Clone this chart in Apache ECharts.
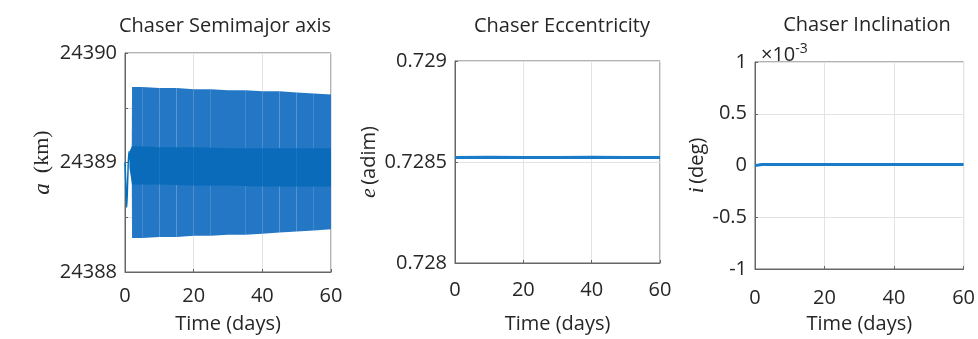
<!DOCTYPE html>
<html>
<head>
<meta charset="utf-8">
<script src="https://cdn.jsdelivr.net/npm/echarts@6/dist/echarts.min.js"></script>
<style>
  html, body { margin: 0; padding: 0; background: #fff; }
  #chart { width: 978px; height: 339px; }
</style>
</head>
<body>
<div id="chart"></div>
<script>
// semimajor axis: early transient, then envelope of the fast oscillation (km)
const transT = [0, 0.25, 0.5, 0.8, 1.15, 1.5, 1.95];
const transA = [24389.0, 24388.8, 24388.59, 24388.85, 24389.1, 24389.02, 24389.0];

const bandT = [1.95, 2.05, 5, 10, 15, 20, 25, 30, 35, 40, 45, 50, 55, 60];
const bandUpper = [24389.0, 24389.69, 24389.69, 24389.68, 24389.68, 24389.67, 24389.67, 24389.66, 24389.66, 24389.65, 24389.65, 24389.64, 24389.63, 24389.62];
const bandLower = [24389.0, 24388.31, 24388.31, 24388.32, 24388.32, 24388.33, 24388.33, 24388.34, 24388.34, 24388.35, 24388.36, 24388.37, 24388.38, 24388.39];

const coreT = [1.3, 2.05, 10, 20, 30, 40, 50, 60];
const coreUpper = [24389.1, 24389.15, 24389.14, 24389.14, 24389.13, 24389.13, 24389.13, 24389.13];
const coreLower = [24388.95, 24388.8, 24388.8, 24388.79, 24388.79, 24388.78, 24388.78, 24388.78];

// eccentricity (adim)
const eccT = [0, 10, 20, 30, 40, 50, 60];
const eccV = [0.728522, 0.728523, 0.728522, 0.728522, 0.728523, 0.728522, 0.728522];

// inclination (deg)
const incT = [0, 1, 2, 5, 10, 20, 30, 40, 50, 60];
const incV = [0, 0.000004, 0.000009, 0.00001, 0.00001, 0.00001, 0.00001, 0.00001, 0.00001, 0.00001];

const xTicks = [0, 20, 40, 60];

const BLUE = '#0072BD';
const TXT = '#262626';
const FONT = 'Open Sans';
const AX = '#666';

const pairs = (xs, ys) => xs.map((x, i) => [x, ys[i]]);
// consecutive envelope samples -> one quad each: [t0, lo0, hi0, t1, lo1, hi1]
const segs = (xs, lo, hi) => xs.slice(1).map((x, i) => [xs[i], lo[i], hi[i], x, lo[i + 1], hi[i + 1]]);

function bandSeries(data, color) {
  return {
    type: 'custom', xAxisIndex: 0, yAxisIndex: 0,
    encode: { x: [0, 3], y: [1, 2, 4, 5] },
    data: data,
    renderItem: (params, api) => {
      const pts = [
        api.coord([api.value(0), api.value(1)]),
        api.coord([api.value(3), api.value(4)]),
        api.coord([api.value(3), api.value(5)]),
        api.coord([api.value(0), api.value(2)])
      ];
      return { type: 'polygon', shape: { points: pts }, style: { fill: color } };
    }
  };
}

const chart = echarts.init(document.getElementById('chart'), null, { renderer: 'canvas' });

const grids = [
  { left: 125, top: 53, width: 206, height: 229 },
  { left: 455, top: 61, width: 205, height: 212 },
  { left: 755, top: 62, width: 213, height: 216 }
];

function xAxis(idx, margin, nameGap) {
  return {
    type: 'value', gridIndex: idx, min: xTicks[0], max: xTicks[xTicks.length - 1], interval: 20,
    name: 'Time (days)', nameLocation: 'middle', nameGap: nameGap,
    nameTextStyle: { fontFamily: FONT, fontSize: 20, color: TXT },
    axisLine: { show: true, onZero: false, lineStyle: { color: AX, width: 1 } },
    axisTick: { show: true, inside: true, length: 3, lineStyle: { color: AX } },
    axisLabel: { fontFamily: FONT, fontSize: 20, color: TXT, margin: margin },
    splitLine: { show: true, lineStyle: { color: '#e3e3e3', width: 1 } }
  };
}

function yBase(idx) {
  return {
    type: 'value', gridIndex: idx, nameLocation: 'middle', nameRotate: 90,
    axisLine: { show: true, lineStyle: { color: AX } },
    axisTick: { show: true, inside: true, length: 3, lineStyle: { color: AX } },
    splitLine: { show: true, lineStyle: { color: '#e3e3e3' } }
  };
}

const yLabel = (fmt) => ({ fontFamily: FONT, fontSize: 20, color: TXT, margin: 8,
  padding: [4, 0, 0, 0], formatter: fmt });

const option = {
  animation: false,
  backgroundColor: '#fff',
  title: [
    { text: 'Chaser Semimajor axis', left: 220, top: 11, textAlign: 'center',
      textStyle: { fontFamily: FONT, fontSize: 20, fontWeight: 'normal', color: TXT } },
    { text: 'Chaser Eccentricity', left: 557, top: 11, textAlign: 'center',
      textStyle: { fontFamily: FONT, fontSize: 20, fontWeight: 'normal', color: TXT } },
    { text: 'Chaser Inclination', left: 862, top: 10, textAlign: 'center',
      textStyle: { fontFamily: FONT, fontSize: 20, fontWeight: 'normal', color: TXT } },
    { text: '{a|×10}{s|-3}', left: 756, top: 37,
      textStyle: { rich: {
        a: { fontFamily: FONT, fontSize: 20, fontWeight: 'normal', color: TXT },
        s: { fontFamily: FONT, fontSize: 14, fontWeight: 'normal', color: TXT, padding: [0, 0, 12, 0] }
      } } }
  ],
  grid: grids.map(g => Object.assign({ show: true, borderColor: AX, borderWidth: 1, containLabel: false }, g)),
  xAxis: [xAxis(0, 14, 42), xAxis(1, 17, 51), xAxis(2, 19, 45)],
  yAxis: [
    Object.assign(yBase(0), {
      min: 24388, max: 24390, interval: 0.5,
      name: '{m|a}   {t|(km)}', nameGap: 71,
      nameTextStyle: { rich: {
        m: { fontFamily: 'Liberation Serif', fontStyle: 'italic', fontSize: 23, color: TXT },
        t: { fontFamily: 'Liberation Serif', fontSize: 22, color: TXT }
      } },
      axisLabel: yLabel(v => (Number.isInteger(v) ? String(v) : ''))
    }),
    Object.assign(yBase(1), {
      min: 0.728, max: 0.729, interval: 0.0005,
      name: '{m|e} {t|(adim)}', nameGap: 75,
      nameTextStyle: { rich: {
        m: { fontFamily: 'Liberation Serif', fontStyle: 'italic', fontSize: 22, color: TXT },
        t: { fontFamily: FONT, fontSize: 20, color: TXT }
      } },
      axisLabel: yLabel(v => String(+v.toFixed(4)))
    }),
    Object.assign(yBase(2), {
      min: -0.001, max: 0.001, interval: 0.0005,
      name: '{m|i} {t|(deg)}', nameGap: 37,
      nameTextStyle: { rich: {
        m: { fontFamily: 'Liberation Serif', fontStyle: 'italic', fontSize: 22, color: TXT },
        t: { fontFamily: FONT, fontSize: 20, color: TXT }
      } },
      axisLabel: yLabel(v => String(+(v * 1000).toFixed(1)))
    })
  ],
  series: [
    bandSeries(segs(bandT, bandLower, bandUpper), '#2377c4'),
    bandSeries(segs(coreT, coreLower, coreUpper), '#0a6bbb'),
    { type: 'line', xAxisIndex: 0, yAxisIndex: 0, symbol: 'none', smooth: 0.3,
      lineStyle: { color: BLUE, width: 1.5 }, data: pairs(transT, transA) },
    { type: 'line', xAxisIndex: 1, yAxisIndex: 1, symbol: 'none',
      lineStyle: { color: '#1a7bc8', width: 3 }, data: pairs(eccT, eccV) },
    { type: 'line', xAxisIndex: 2, yAxisIndex: 2, symbol: 'none',
      lineStyle: { color: '#1a7bc8', width: 3 }, data: pairs(incT, incV) }
  ]
};

chart.setOption(option);
</script>
</body>
</html>
